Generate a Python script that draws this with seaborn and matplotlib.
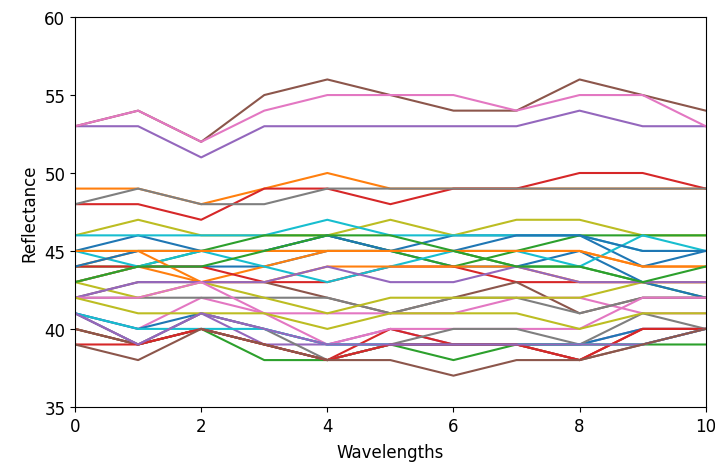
import pandas as pd
import matplotlib
matplotlib.use("Agg")
import matplotlib.pyplot as plt
import seaborn as sns

# wavelengths on the x axis
wavelengths = list(range(11))

# reflectance curves (order sets the tab10 colour)
blue_1 = [45, 46, 45, 45, 46, 45, 46, 46, 46, 44, 45]
orange_1 = [49, 49, 48, 49, 50, 49, 49, 49, 49, 49, 49]
green_1 = [45, 45, 45, 45, 45, 45, 45, 44, 44, 43, 42]
red_1 = [48, 48, 47, 49, 49, 48, 49, 49, 50, 50, 49]
purple_1 = [53, 53, 51, 53, 53, 53, 53, 53, 54, 53, 53]
brown_1 = [53, 54, 52, 55, 56, 55, 54, 54, 56, 55, 54]
pink_1 = [53, 54, 52, 54, 55, 55, 55, 54, 55, 55, 53]
gray_1 = [48, 49, 48, 48, 49, 49, 49, 49, 49, 49, 49]
olive_1 = [46, 47, 46, 46, 46, 47, 46, 47, 47, 46, 46]
cyan_1 = [46, 46, 46, 46, 47, 46, 46, 46, 46, 45, 45]

blue_2 = [43, 44, 44, 44, 45, 45, 44, 44, 45, 43, 42]
orange_2 = [43, 44, 43, 44, 45, 45, 45, 45, 45, 44, 44]
green_2 = [44, 44, 45, 46, 46, 45, 44, 45, 46, 46, 46]
red_2 = [44, 44, 44, 43, 43, 44, 44, 43, 43, 43, 43]
purple_2 = [41, 39, 41, 39, 39, 40, 39, 39, 39, 40, 40]
brown_2 = [42, 43, 43, 43, 42, 41, 42, 43, 41, 42, 42]
pink_2 = [41, 40, 42, 41, 41, 41, 41, 42, 42, 41, 41]
gray_2 = [42, 42, 42, 42, 42, 41, 42, 42, 41, 42, 42]
olive_2 = [43, 42, 43, 42, 41, 42, 42, 42, 42, 43, 43]
cyan_2 = [45, 44, 45, 44, 43, 44, 45, 45, 44, 46, 45]

blue_3 = [41, 40, 41, 40, 39, 39, 39, 39, 39, 40, 40]
orange_3 = [44, 45, 43, 43, 44, 44, 44, 44, 43, 43, 43]
green_3 = [40, 39, 40, 38, 38, 39, 38, 39, 39, 39, 39]
red_3 = [40, 39, 40, 39, 38, 40, 39, 39, 38, 40, 40]
purple_3 = [42, 43, 43, 43, 44, 43, 43, 44, 43, 43, 43]
brown_3 = [40, 39, 40, 39, 38, 39, 39, 39, 38, 39, 40]
pink_3 = [42, 42, 43, 41, 39, 40, 40, 40, 40, 42, 42]
gray_3 = [41, 39, 41, 40, 38, 39, 40, 40, 39, 41, 40]
olive_3 = [42, 41, 41, 41, 40, 41, 41, 41, 40, 41, 41]
cyan_3 = [41, 40, 40, 40, 39, 39, 39, 39, 39, 39, 40]

blue_4 = [44, 45, 45, 45, 46, 45, 45, 46, 46, 45, 45]
orange_4 = [45, 45, 45, 45, 45, 45, 45, 45, 45, 44, 44]
green_4 = [43, 44, 44, 45, 46, 46, 45, 44, 44, 43, 44]
red_4 = [39, 39, 40, 39, 38, 39, 39, 39, 38, 40, 40]
purple_4 = [41, 39, 41, 40, 39, 39, 39, 39, 39, 39, 40]
brown_4 = [39, 38, 40, 39, 38, 38, 37, 38, 38, 39, 40]

curves = [
    blue_1, orange_1, green_1, red_1, purple_1, brown_1, pink_1, gray_1, olive_1, cyan_1,
    blue_2, orange_2, green_2, red_2, purple_2, brown_2, pink_2, gray_2, olive_2, cyan_2,
    blue_3, orange_3, green_3, red_3, purple_3, brown_3, pink_3, gray_3, olive_3, cyan_3,
    blue_4, orange_4, green_4, red_4, purple_4, brown_4,
]

rows = []
for i, c in enumerate(curves):
    for w, r in zip(wavelengths, c):
        rows.append({"sample": i, "Wavelengths": w, "Reflectance": r})
df = pd.DataFrame(rows)

tab10 = sns.color_palette("tab10", 10)
palette = [tab10[i % 10] for i in range(len(curves))]

fig, ax = plt.subplots(figsize=(7.15, 4.64), dpi=100)
fig.subplots_adjust(left=0.105, right=0.987, top=0.961, bottom=0.121)

sns.lineplot(data=df, x="Wavelengths", y="Reflectance", hue="sample",
             palette=palette, legend=False, linewidth=1.5, ax=ax)

ax.set_xlim(0, 10)
ax.set_ylim(35, 60)
ax.set_xticks([0, 2, 4, 6, 8, 10])
ax.set_yticks([35, 40, 45, 50, 55, 60])
ax.tick_params(labelsize=12)
ax.set_xlabel("Wavelengths", fontsize=12, labelpad=6)
ax.set_ylabel("Reflectance", fontsize=12)

plt.savefig("out.png", dpi=100)
